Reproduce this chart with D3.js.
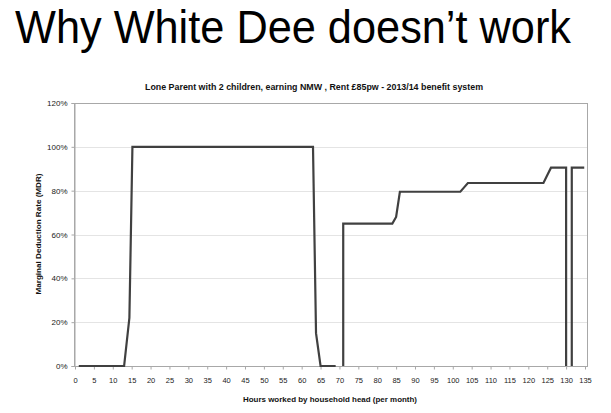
<!DOCTYPE html>
<html>
<head>
<meta charset="utf-8">
<script src="https://cdn.jsdelivr.net/npm/d3@7"></script>
<style>
  html, body { margin: 0; padding: 0; background: #fff; }
  svg { display: block; }
</style>
</head>
<body>
<svg id="chart" width="611" height="413"></svg>
<script>
// Data (hours per month vs MDR %), null = gap in the line
const hours = [1, 13, 14.4, 15.2, 63, 63.8, 65, 69, 70, 71, 71, 84, 85, 86, 102, 103, 104, 124, 125, 126, 130, 130, 131, 131.5, 131.5, 134.8];
const mdr   = [0, 0, 22, 100, 100, 15, 0, 0, null, 0, 65, 65, 68, 79.5, 79.5, 81.5, 83.5, 83.5, 87, 90.5, 90.5, 0, null, 0, 90.5, 90.5];

const xTicks = d3.range(0, 136, 5);
const yTicks = [0, 20, 40, 60, 80, 100, 120];

const slideTitle = "Why White Dee doesn\u2019t work";
const chartTitle = "Lone Parent with 2 children, earning NMW , Rent \u00a385pw - 2013/14 benefit system";
const xTitle = "Hours worked by household head (per month)";
const yTitle = "Marginal Deduction Rate (MDR)";

document.addEventListener("DOMContentLoaded", function() {
    const svg = d3.select("#chart");

    // Plot area
    const plot = {left: 74, right: 587, top: 103, bottom: 366};

    const x = d3.scaleLinear().domain([0, 135]).range([75, 585]);
    const y = d3.scaleLinear().domain([0, 120]).range([plot.bottom, plot.top]);

    const chartFont = "'Liberation Sans', Arial, sans-serif";

    // Slide heading
    svg.append("text")
        .attr("x", 15)
        .attr("y", 43)
        .attr("font-family", chartFont)
        .attr("font-size", 46)
        .attr("textLength", 556)
        .attr("lengthAdjust", "spacingAndGlyphs")
        .attr("fill", "#000")
        .text(slideTitle);

    // Chart title
    svg.append("text")
        .attr("x", 314)
        .attr("y", 90)
        .attr("text-anchor", "middle")
        .attr("font-family", chartFont)
        .attr("font-weight", "bold")
        .attr("font-size", 8.5)
        .attr("textLength", 338)
        .attr("lengthAdjust", "spacingAndGlyphs")
        .attr("fill", "#111")
        .text(chartTitle);

    // Gridlines
    svg.append("g")
        .selectAll("line")
        .data(yTicks.filter(d => d > 0))
        .enter().append("line")
        .attr("x1", plot.left)
        .attr("x2", plot.right)
        .attr("y1", d => Math.round(y(d)) + 0.5)
        .attr("y2", d => Math.round(y(d)) + 0.5)
        .attr("stroke", "#e4e4e4")
        .attr("stroke-width", 1);

    // Plot border
    svg.append("rect")
        .attr("x", plot.left + 0.5)
        .attr("y", plot.top + 0.5)
        .attr("width", plot.right - plot.left)
        .attr("height", plot.bottom - plot.top)
        .attr("fill", "none")
        .attr("stroke", "#a8a8a8")
        .attr("stroke-width", 1);

    // Y axis
    const yAxis = svg.append("g")
        .attr("transform", `translate(${plot.left + 0.5},0)`)
        .call(d3.axisLeft(y).tickValues(yTicks).tickSize(3).tickPadding(4).tickFormat(d => d + "%"));
    yAxis.select(".domain").attr("stroke", "#a8a8a8");
    yAxis.selectAll(".tick line").attr("stroke", "#a8a8a8");
    yAxis.selectAll("text")
        .attr("font-family", chartFont)
        .attr("font-size", 8)
        .attr("fill", "#222");

    // X axis
    const xAxis = svg.append("g")
        .attr("transform", `translate(0,${plot.bottom + 0.5})`)
        .call(d3.axisBottom(x).tickValues(xTicks).tickSize(3).tickPadding(8));
    xAxis.select(".domain").remove();
    xAxis.selectAll(".tick line").attr("stroke", "#a8a8a8");
    xAxis.selectAll("text")
        .attr("font-family", chartFont)
        .attr("font-size", 7.5)
        .attr("fill", "#222");

    // Axis titles
    svg.append("text")
        .attr("x", 330)
        .attr("y", 402)
        .attr("text-anchor", "middle")
        .attr("font-family", chartFont)
        .attr("font-weight", "bold")
        .attr("font-size", 8)
        .attr("textLength", 174)
        .attr("lengthAdjust", "spacingAndGlyphs")
        .attr("fill", "#111")
        .text(xTitle);

    svg.append("text")
        .attr("transform", `translate(40.5,234) rotate(-90)`)
        .attr("text-anchor", "middle")
        .attr("font-family", chartFont)
        .attr("font-weight", "bold")
        .attr("font-size", 8)
        .attr("textLength", 121)
        .attr("lengthAdjust", "spacingAndGlyphs")
        .attr("fill", "#111")
        .text(yTitle);

    // MDR line
    const points = hours.map((h, i) => ({hour: h, rate: mdr[i]}));
    const line = d3.line()
        .defined(d => d.rate !== null)
        .x(d => x(d.hour))
        .y(d => y(d.rate));

    svg.append("path")
        .datum(points)
        .attr("d", line)
        .attr("fill", "none")
        .attr("stroke", "#404040")
        .attr("stroke-width", 2.2)
        .attr("stroke-linejoin", "miter");
});
</script>
</body>
</html>
